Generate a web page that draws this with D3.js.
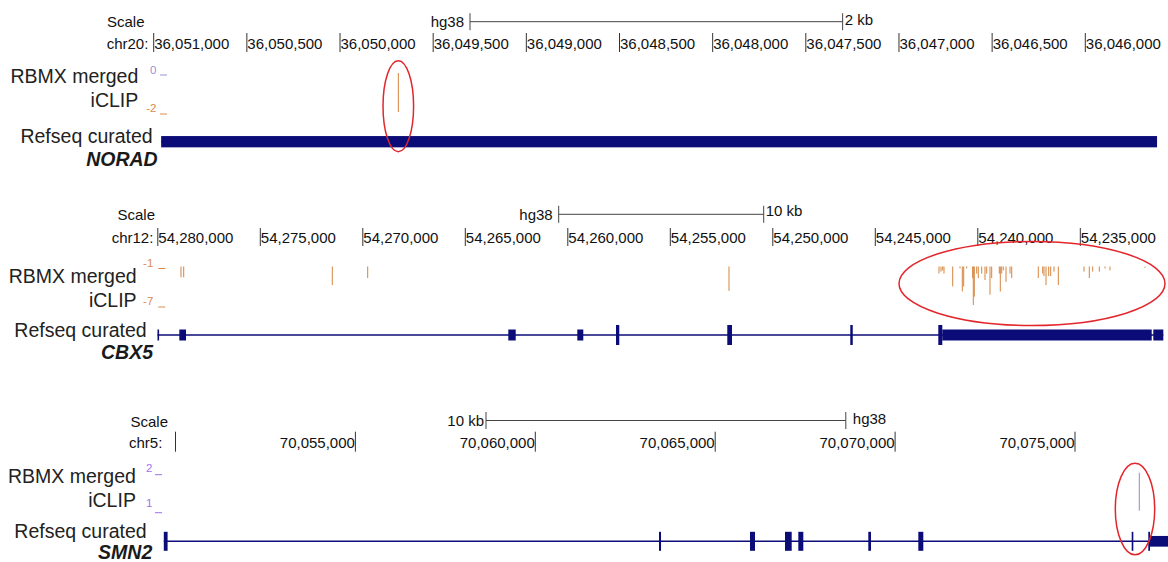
<!DOCTYPE html>
<html>
<head>
<meta charset="utf-8">
<script src="https://cdn.jsdelivr.net/npm/d3@7"></script>
<style>
  body { margin: 0; background: #fff; }
  svg { display: block; font-family: "Liberation Sans", Arial, Helvetica, sans-serif; }
</style>
</head>
<body>
<svg id="chart" width="1168" height="562"></svg>
<script>
// ---------- NORAD, chr20 (hg38); window shown with coordinates decreasing to the right ----------
const noradTicks = [36051000, 36050500, 36050000, 36049500, 36049000, 36048500,
                    36048000, 36047500, 36047000, 36046500, 36046000];
const noradExons = [[36045615, 36050960, "utr"]];
const noradSpan = [36045615, 36050960];
const noradSignalPos = [36049687];
const noradSignalVal = [-2];
const noradAxis = [0, -2];

// ---------- CBX5, chr12 (hg38); coordinates decreasing to the right ----------
const cbx5Ticks = [54280000, 54275000, 54270000, 54265000, 54260000,
                   54255000, 54250000, 54245000, 54240000, 54235000];
const cbx5Exons = [
  [54279940, 54280015, "utr"],
  [54278624, 54278951, "utr"],
  [54262541, 54262902, "utr"],
  [54259244, 54259537, "utr"],
  [54257488, 54257649, "cds"],
  [54251990, 54252220, "cds"],
  [54246100, 54246220, "cds"],
  [54241732, 54241927, "cds"],
  [54231517, 54241732, "utr"],
  [54230951, 54231439, "utr"]
];
const cbx5Span = [54230951, 54280015];
const cbx5SignalPos = [
  54278868, 54278737, 54271488, 54269761, 54252137,
  54241893, 54241795, 54241712, 54241649, 54241224, 54240868, 54240756, 54240688,
  54240541, 54240249, 54240220, 54240171, 54240054, 54239976, 54239810, 54239649,
  54239566, 54239405, 54239322, 54238951, 54238902, 54238834, 54238756, 54238624,
  54238429, 54238346, 54237049, 54236834, 54236771, 54236673, 54236541, 54236444,
  54236283, 54236073, 54234820, 54234561, 54234395, 54234073, 54233795, 54233551,
  54231844
];
const cbx5SignalVal = [
  -2.7, -2.7, -3.9, -2.8, -4.8,
  -2.1, -1.8, -1.6, -2.1, -4.1, -1.3, -4.9, -4.1,
  -1.3, -2.8, -7.0, -5.7, -2.1, -2.8, -2.1, -3.1,
  -2.1, -5.4, -2.8, -2.1, -4.9, -2.1, -1.6, -3.4,
  -2.1, -2.8, -2.8, -2.1, -2.5, -3.9, -2.5, -2.5,
  -1.8, -3.9, -1.8, -2.8, -1.8, -1.8, -1.3, -1.6,
  -1.2
];
const cbx5Axis = [-1, -7];

// ---------- SMN2, chr5 (hg38); coordinates increasing to the right ----------
const smn2Ticks = [70050000, 70055000, 70060000, 70065000, 70070000, 70075000];
const smn2Exons = [
  [70049675, 70049780, "cds"],
  [70063438, 70063494, "cds"],
  [70065967, 70066106, "cds"],
  [70066940, 70067126, "cds"],
  [70067310, 70067449, "cds"],
  [70069255, 70069330, "cds"],
  [70070645, 70070784, "cds"],
  [70076576, 70076621, "cds"],
  [70077037, 70077085, "cds"],
  [70077085, 70078522, "utr"]
];
const smn2Span = [70049675, 70078522];
const smn2SignalPos = [70076787];
const smn2SignalVal = [2];
const smn2Axis = [2, 1];

const GENE_BLUE = "#0c0c78";
const TEXT = "#111";
const LABEL_SIZE = 19.5;
const fmt = d3.format(",");
const svg = d3.select("#chart");

function drawPanel(p) {
  const g = svg.append("g");
  const x = d3.scaleLinear().domain(p.xDomain).range(p.xRange);
  const y = d3.scaleLinear().domain(p.axis).range(p.yRange).clamp(true);
  // bars grow from the view limit nearest zero
  const base = Math.abs(p.axis[0]) <= Math.abs(p.axis[1]) ? p.axis[0] : p.axis[1];

  // scale bar
  const barLen = Math.abs(x(p.xDomain[0]) - x(p.xDomain[0] + p.barKb * 1000));
  const bx0 = p.bar.x, bx1 = p.bar.x + barLen;
  g.append("line").attr("x1", bx0).attr("x2", bx1).attr("y1", p.bar.y).attr("y2", p.bar.y)
    .attr("stroke", "#444").attr("stroke-width", 1);
  [bx0, bx1].forEach(bx => g.append("line").attr("x1", bx).attr("x2", bx)
    .attr("y1", p.bar.y - 8.5).attr("y2", p.bar.y + 8.5).attr("stroke", "#444").attr("stroke-width", 1));
  g.append("text").attr("x", p.scaleX).attr("y", p.scaleY).attr("font-size", 15)
    .attr("fill", TEXT).text("Scale");
  const kbLabel = p.barKb + " kb";
  if (p.kbLeft) {
    g.append("text").attr("x", bx0 - 2).attr("y", p.kbY).attr("text-anchor", "end")
      .attr("font-size", 15).attr("fill", TEXT).text(kbLabel);
    g.append("text").attr("x", bx1 + 7).attr("y", p.asmY).attr("font-size", 15)
      .attr("fill", TEXT).text("hg38");
  } else {
    g.append("text").attr("x", bx0 - 6).attr("y", p.asmY).attr("text-anchor", "end")
      .attr("font-size", 15).attr("fill", TEXT).text("hg38");
    g.append("text").attr("x", bx1 + 2).attr("y", p.kbY).attr("font-size", 15)
      .attr("fill", TEXT).text(kbLabel);
  }

  // position ruler
  g.append("text").attr("x", p.chromX).attr("y", p.rulerY).attr("font-size", 15)
    .attr("fill", TEXT).text(p.chrom + ":");
  const tk = g.append("g").selectAll("g").data(p.ticks).join("g");
  tk.append("line").attr("x1", d => x(d)).attr("x2", d => x(d))
    .attr("y1", p.tickY[0]).attr("y2", p.tickY[1]).attr("stroke", "#333").attr("stroke-width", 1);
  // the leftmost SMN2 tick sits at the window edge and carries no label
  tk.filter((d, i) => p.labelFirst || i > 0).append("text")
    .attr("x", d => p.labelRight ? x(d) + 0.5 : x(d) - 0.5)
    .attr("y", p.rulerY)
    .attr("text-anchor", p.labelRight ? "start" : "end")
    .attr("font-size", 15).attr("fill", TEXT).text(d => fmt(d));

  // track labels
  const lab = (txt, xx, yy, bold) => g.append("text").attr("x", xx).attr("y", yy)
    .attr("text-anchor", "end").attr("font-size", LABEL_SIZE).attr("fill", bold ? "#1a1a1a" : "#222")
    .attr("font-weight", bold ? "bold" : null).attr("font-style", bold ? "italic" : null).text(txt);
  lab("RBMX merged", p.trackLabelX, p.trackLabelY[0]);
  lab("iCLIP", p.trackLabelX, p.trackLabelY[1]);
  lab("Refseq curated", p.geneLabelX, p.geneLabelY[0]);
  lab(p.gene, p.geneNameX, p.geneLabelY[1], true);

  // signal view limits
  p.axis.forEach((v, i) => {
    g.append("text").attr("x", p.axisTextX).attr("y", y(v) + p.axisTextDy[i]).attr("text-anchor", "end")
      .attr("font-size", 11.5).attr("fill", p.axisColors[i]).text(v);
    g.append("line").attr("x1", p.axisTickX).attr("x2", p.axisTickX + 7)
      .attr("y1", y(v) + 2).attr("y2", y(v) + 2).attr("stroke", p.axisColors[i]).attr("stroke-width", 1);
  });

  // signal bars
  const sig = p.signalPos.map((pos, i) => ({ pos, val: p.signalVal[i] }));
  g.append("g").selectAll("line").data(sig).join("line")
    .attr("x1", d => x(d.pos)).attr("x2", d => x(d.pos))
    .attr("y1", y(base)).attr("y2", d => y(d.val))
    .attr("stroke", p.signalColor).attr("stroke-width", 1);

  // gene model: intron line then exon blocks
  g.append("line").attr("x1", x(p.span[0])).attr("x2", x(p.span[1]))
    .attr("y1", p.geneY).attr("y2", p.geneY).attr("stroke", GENE_BLUE).attr("stroke-width", 1.6);
  g.append("g").selectAll("rect").data(p.exons).join("rect")
    .attr("x", d => Math.min(x(d[0]), x(d[1])))
    .attr("width", d => Math.max(1.6, Math.abs(x(d[1]) - x(d[0]))))
    .attr("y", d => p.geneY - (d[2] === "cds" ? p.cdsH : p.utrH) / 2)
    .attr("height", d => d[2] === "cds" ? p.cdsH : p.utrH)
    .attr("fill", GENE_BLUE);

  // highlighted binding region
  g.append("ellipse").attr("cx", p.ring.cx).attr("cy", p.ring.cy)
    .attr("rx", p.ring.rx).attr("ry", p.ring.ry)
    .attr("fill", "none").attr("stroke", "#e3262c").attr("stroke-width", 1.5);
}

drawPanel({
  gene: "NORAD", chrom: "chr20",
  xDomain: [36051000, 36046000], xRange: [153.7, 1085.3],
  ticks: noradTicks, labelRight: true, labelFirst: true,
  bar: { x: 470, y: 21.7 }, barKb: 2, kbLeft: false, scaleX: 107, scaleY: 27, kbY: 25, asmY: 26.7,
  chromX: 106.7, rulerY: 49.3, tickY: [33, 52],
  trackLabelX: 138.3, trackLabelY: [83.3, 106.7],
  geneLabelX: 152.7, geneNameX: 157.7, geneLabelY: [143.3, 166],
  axis: noradAxis, yRange: [73, 112], axisTextX: 156.5, axisTextDy: [1, -0.5], axisTickX: 160,
  axisColors: ["#9494d4", "#d98c50"],
  signalPos: noradSignalPos, signalVal: noradSignalVal, signalColor: "#d4843e",
  span: noradSpan, exons: noradExons, geneY: 141.7, cdsH: 20, utrH: 11.3,
  ring: { cx: 398.3, cy: 106.2, rx: 15.3, ry: 45.5 }
});

drawPanel({
  gene: "CBX5", chrom: "chr12",
  xDomain: [54280000, 54235000], xRange: [157.8, 1080.3],
  ticks: cbx5Ticks, labelRight: true, labelFirst: true,
  bar: { x: 558.7, y: 214.3 }, barKb: 10, kbLeft: false, scaleX: 117.5, scaleY: 220, kbY: 215.7, asmY: 220,
  chromX: 111.7, rulerY: 242.5, tickY: [228, 246],
  trackLabelX: 136.6, trackLabelY: [283.3, 306.7],
  geneLabelX: 146.6, geneNameX: 153, geneLabelY: [336.7, 358.5],
  axis: cbx5Axis, yRange: [266.5, 305], axisTextX: 153.3, axisTextDy: [0.5, -0.5], axisTickX: 158.3,
  axisColors: ["#d98c50", "#d98c50"],
  signalPos: cbx5SignalPos, signalVal: cbx5SignalVal, signalColor: "#d4843e",
  span: cbx5Span, exons: cbx5Exons, geneY: 335, cdsH: 20, utrH: 11,
  ring: { cx: 1032, cy: 283.5, rx: 133, ry: 42 }
});

drawPanel({
  gene: "SMN2", chrom: "chr5",
  xDomain: [70050000, 70075000], xRange: [175.5, 1075.0],
  ticks: smn2Ticks, labelRight: false, labelFirst: false,
  bar: { x: 486, y: 420.5 }, barKb: 10, kbLeft: true, scaleX: 130.5, scaleY: 427, kbY: 426, asmY: 424,
  chromX: 129, rulerY: 448, tickY: [431.7, 451.7],
  trackLabelX: 135.9, trackLabelY: [483.3, 506.7],
  geneLabelX: 146.6, geneNameX: 152.3, geneLabelY: [538.3, 559],
  axis: smn2Axis, yRange: [472.7, 510.7], axisTextX: 152.3, axisTextDy: [-1, -3.4], axisTickX: 155,
  axisColors: ["#a070ee", "#a070ee"],
  signalPos: smn2SignalPos, signalVal: smn2SignalVal, signalColor: "#8c8cc6",
  span: smn2Span, exons: smn2Exons, geneY: 541.3, cdsH: 19, utrH: 10.7,
  ring: { cx: 1135, cy: 509, rx: 19.7, ry: 45.8 }
});
</script>
</body>
</html>
